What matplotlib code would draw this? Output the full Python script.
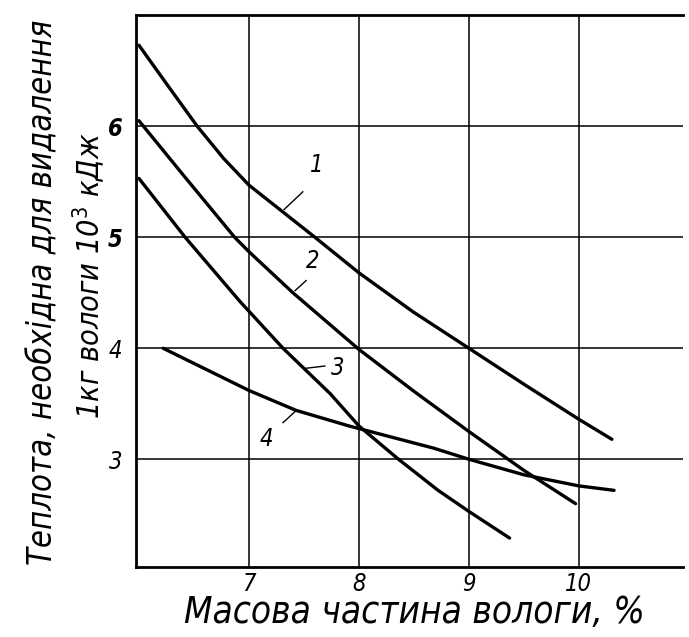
import matplotlib
matplotlib.use('Agg')
import matplotlib.pyplot as plt

plt.rcParams['font.family'] = ['DejaVu Sans']
plt.rcParams['font.stretch'] = 'condensed'

# values
c1_x = [6.0, 6.26, 6.53, 6.77, 7.0, 7.6, 8.0, 8.49, 9.0, 9.51, 10.0, 10.3]
c1_y = [6.73, 6.37, 6.0, 5.71, 5.47, 5.0, 4.68, 4.33, 4.0, 3.67, 3.36, 3.18]
c2_x = [6.0, 6.42, 6.87, 7.0, 7.40, 8.0, 8.49, 9.0, 9.5, 9.97]
c2_y = [6.05, 5.54, 5.0, 4.87, 4.50, 3.99, 3.62, 3.25, 2.90, 2.60]
c3_x = [6.0, 6.42, 6.92, 7.31, 7.74, 8.0, 8.36, 8.72, 9.0, 9.37]
c3_y = [5.53, 5.0, 4.42, 4.0, 3.59, 3.30, 3.0, 2.72, 2.53, 2.29]
c4_x = [6.22, 7.0, 7.43, 7.91, 8.68, 9.0, 9.5, 10.0, 10.32]
c4_y = [4.0, 3.62, 3.44, 3.30, 3.10, 3.0, 2.86, 2.76, 2.72]
curve_labels = ['1', '2', '3', '4']
x_ticks = [7, 8, 9, 10]
y_ticks = [3, 4, 5, 6]

fig = plt.figure(figsize=(6.89, 6.37), dpi=100)
ax = fig.add_axes([0.198, 0.110, 0.793, 0.866])

for xs, ys in [(c1_x, c1_y), (c2_x, c2_y), (c3_x, c3_y), (c4_x, c4_y)]:
    ax.plot(xs, ys, color='black', lw=2.4, solid_capstyle='round',
            solid_joinstyle='round', zorder=3)

# labels with short leader strokes
lab = [((7.62, 5.65), (7.32, 5.25), (7.49, 5.41)),
       ((7.58, 4.79), (7.42, 4.52), (7.52, 4.61)),
       ((7.81, 3.82), (7.52, 3.82), (7.69, 3.84)),
       ((7.16, 3.18), (7.31, 3.33), (7.42, 3.43))]
for name, (pos, a, b) in zip(curve_labels, lab):
    ax.text(pos[0], pos[1], name, fontsize=17, style='italic',
            ha='center', va='center')
    ax.plot([a[0], b[0]], [a[1], b[1]], color='black', lw=1.0)

ax.set_xlim(5.977, 10.945)
ax.set_ylim(2.03, 7.0)
ax.set_xticks(x_ticks)
ax.set_yticks(y_ticks)
ax.set_xticklabels([str(v) for v in x_ticks], fontsize=17, style='italic')
ax.set_yticklabels([str(v) for v in y_ticks], fontsize=17, style='italic')
for t in ax.get_yticklabels():
    if t.get_text() in ('5', '6'):
        t.set_fontweight('bold')
ax.tick_params(length=0)
ax.tick_params(axis='x', pad=4)
ax.tick_params(axis='y', pad=10)
ax.grid(True, color='black', lw=1.1)
ax.set_axisbelow(True)
ax.spines['right'].set_visible(False)
for s in ['left', 'top', 'bottom']:
    ax.spines[s].set_linewidth(2.0)

fig.text(0.602, 0.038, 'Масова частина вологи, %', fontsize=26.5,
         style='italic', ha='center', va='center')
fig.text(0.063, 0.541, 'Теплота, необхідна для видалення', rotation=90,
         fontsize=23.5, style='italic', ha='center', va='center')
fig.text(0.128, 0.568, '1кг вологи 10$^3$ кДж', rotation=90,
         fontsize=22, style='italic', ha='center', va='center')

fig.savefig('out.png', dpi=100)
